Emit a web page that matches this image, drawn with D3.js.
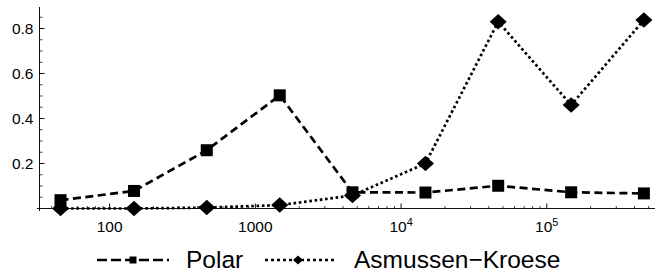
<!DOCTYPE html>
<html>
<head>
<meta charset="utf-8">
<script src="https://cdn.jsdelivr.net/npm/d3@7"></script>
<style>
    body { margin: 0; background: #fff; }
    text { font-family: "Liberation Sans", Arial, sans-serif; fill: #000; }
</style>
</head>
<body>
<script>
// Sample sizes (x, log scale) and the two estimator errors
var sampleSizes = [46, 147, 464, 1470, 4640, 14700, 46400, 147000, 464000];
var polarValues = [0.037, 0.078, 0.259, 0.503, 0.072, 0.071, 0.101, 0.072, 0.067];
var akValues = [0.0, 0.0, 0.004, 0.015, 0.058, 0.2, 0.83, 0.46, 0.838];

// Tick values and labels
var xMajorTicks = [100, 1000, 10000, 100000];
var xTickLabels = [["100", ""], ["1000", ""], ["10", "4"], ["10", "5"]];
var yMajorTicks = [0.2, 0.4, 0.6, 0.8];
var yTickLabels = ["0.2", "0.4", "0.6", "0.8"];
var legendNames = ["Polar", "Asmussen\u2212Kroese"];

var width = 659, height = 278;

var svg = d3.select("body").append("svg")
    .attr("width", width)
    .attr("height", height);

// Scales: x is log, y is linear; ranges picked to match the frame
var xScale = d3.scaleLog().domain([33, 553000]).range([39.5, 655]);
var yScale = d3.scaleLinear().domain([0, 0.8933]).range([208.5, 7.5]);

// minor ticks on x: 2..9 times each power of ten inside the domain
var xMinor = [];
for (var p = 1; p <= 5; p++) {
    for (var m = 2; m <= 9; m++) {
        var v = m * Math.pow(10, p);
        if (v > 33 && v < 553000) xMinor.push(v);
    }
}
var yMinor = d3.range(0.05, 0.89, 0.05).filter(function(d) {
    return Math.abs(d / 0.2 - Math.round(d / 0.2)) > 0.01;
});

var axisColor = "#111";

// Axis lines
svg.append("line")
    .attr("x1", 37).attr("x2", 655)
    .attr("y1", yScale(0)).attr("y2", yScale(0))
    .attr("stroke", axisColor).attr("stroke-width", 1);
svg.append("line")
    .attr("x1", xScale(33)).attr("x2", xScale(33))
    .attr("y1", 7).attr("y2", 211)
    .attr("stroke", axisColor).attr("stroke-width", 1);

// x ticks point up into the plot
svg.selectAll(".xminor")
    .data(xMinor)
    .enter().append("line")
    .attr("class", "xminor")
    .attr("x1", function(d) { return xScale(d); })
    .attr("x2", function(d) { return xScale(d); })
    .attr("y1", yScale(0)).attr("y2", yScale(0) - 2.5)
    .attr("stroke", axisColor).attr("stroke-width", 0.8);
svg.selectAll(".xmajor")
    .data(xMajorTicks)
    .enter().append("line")
    .attr("class", "xmajor")
    .attr("x1", function(d) { return xScale(d); })
    .attr("x2", function(d) { return xScale(d); })
    .attr("y1", yScale(0)).attr("y2", yScale(0) - 5)
    .attr("stroke", axisColor).attr("stroke-width", 1);

var xLabels = svg.selectAll(".xlabel")
    .data(xMajorTicks)
    .enter().append("text")
    .attr("class", "xlabel")
    .attr("x", function(d) { return xScale(d); })
    .attr("y", 231.5)
    .attr("font-size", "15.5px")
    .attr("text-anchor", "middle");
xLabels.append("tspan")
    .text(function(d, i) { return xTickLabels[i][0]; });
xLabels.append("tspan")
    .attr("dy", -6)
    .attr("font-size", "11px")
    .text(function(d, i) { return xTickLabels[i][1]; });

// y ticks point right into the plot
svg.selectAll(".yminor")
    .data(yMinor)
    .enter().append("line")
    .attr("class", "yminor")
    .attr("x1", xScale(33)).attr("x2", xScale(33) + 3)
    .attr("y1", function(d) { return yScale(d); })
    .attr("y2", function(d) { return yScale(d); })
    .attr("stroke", axisColor).attr("stroke-width", 0.8);
svg.selectAll(".ymajor")
    .data(yMajorTicks)
    .enter().append("line")
    .attr("class", "ymajor")
    .attr("x1", xScale(33)).attr("x2", xScale(33) + 5)
    .attr("y1", function(d) { return yScale(d); })
    .attr("y2", function(d) { return yScale(d); })
    .attr("stroke", axisColor).attr("stroke-width", 1);
svg.selectAll(".ylabel")
    .data(yMajorTicks)
    .enter().append("text")
    .attr("class", "ylabel")
    .attr("x", 33.5)
    .attr("y", function(d) { return yScale(d); })
    .attr("dy", "0.36em")
    .attr("font-size", "15.5px")
    .attr("text-anchor", "end")
    .text(function(d, i) { return yTickLabels[i]; });

// Series lines
var series = [
    {name: legendNames[0], values: polarValues, dash: "8,4.5", marker: "square"},
    {name: legendNames[1], values: akValues, dash: "2.6,2.7", marker: "diamond"}
];

var line = d3.line()
    .x(function(d) { return xScale(d[0]); })
    .y(function(d) { return yScale(d[1]); });

series.forEach(function(s) {
    var pts = sampleSizes.map(function(x, i) { return [x, s.values[i]]; });
    svg.append("path")
        .attr("d", line(pts))
        .attr("fill", "none")
        .attr("stroke", "#000")
        .attr("stroke-width", 2.7)
        .attr("stroke-dasharray", s.dash);
});

// Markers
function markerPath(type, size) {
    var h = size / 2;
    if (type === "square") {
        return "M" + (-h) + "," + (-h) + "H" + h + "V" + h + "H" + (-h) + "Z";
    }
    var hx = h * 1.1, hy = h;
    return "M0," + (-hy) + "L" + hx + ",0L0," + hy + "L" + (-hx) + ",0Z";
}

series.forEach(function(s) {
    svg.selectAll(".m-" + s.marker)
        .data(sampleSizes)
        .enter().append("path")
        .attr("class", "m-" + s.marker)
        .attr("transform", function(d, i) {
            return "translate(" + xScale(d) + "," + yScale(s.values[i]) + ")";
        })
        .attr("d", markerPath(s.marker, s.marker === "square" ? 12 : 15.5))
        .attr("fill", "#000");
});

// Legend along the bottom
var legendX = [97, 265];
var legend = svg.selectAll(".legend")
    .data(series)
    .enter().append("g")
    .attr("class", "legend")
    .attr("transform", function(d, i) {
        return "translate(" + legendX[i] + ",260)";
    });
legend.append("line")
    .attr("x1", 0).attr("x2", 72)
    .attr("y1", 0).attr("y2", 0)
    .attr("stroke", "#000")
    .attr("stroke-width", 2.7)
    .attr("stroke-dasharray", function(d, i) { return i === 0 ? "10,4" : "3,3"; });
legend.append("path")
    .attr("transform", function(d, i) { return "translate(" + (i === 0 ? 36 : 33) + ",0)"; })
    .attr("d", function(d) { return markerPath(d.marker, d.marker === "square" ? 7 : 9); })
    .attr("fill", "#000");
legend.append("text")
    .attr("x", 89)
    .attr("y", 8)
    .attr("font-size", "24.5px")
    .text(function(d) { return d.name; });
</script>
</body>
</html>
